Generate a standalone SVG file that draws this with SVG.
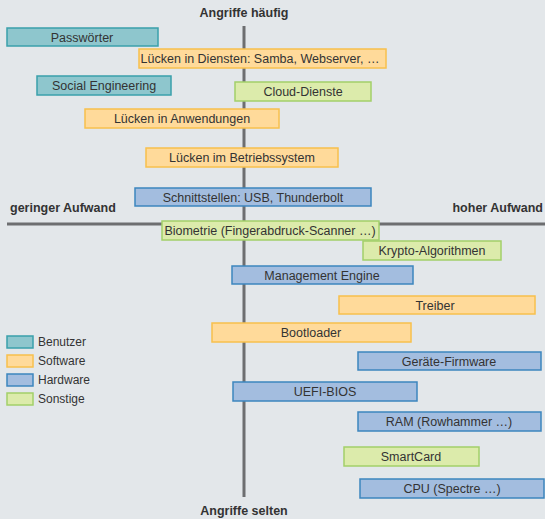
<svg xmlns="http://www.w3.org/2000/svg" width="545" height="519" viewBox="0 0 545 519">
<style>
text{font-family:"Liberation Sans",Arial,sans-serif;fill:#333;}
.t{font-size:12.5px;text-anchor:middle;}
.ax{font-size:12.5px;font-weight:bold;}
.lg{font-size:12px;}
rect{stroke-width:1.5;}
.ben{fill:#8ec6cd;stroke:#3aa0ab;}
.sw{fill:#ffda9a;stroke:#f8c04c;}
.hw{fill:#a3bddf;stroke:#3d86be;}
.so{fill:#dcebab;stroke:#a3d069;}
</style>
<rect x="0" y="0" width="545" height="519" fill="#e3e7ea" stroke="none"/>
<g id="axes">
<line x1="244" y1="26" x2="244" y2="497" stroke="#6d6e70" stroke-width="3"/>
<line x1="7" y1="224" x2="545" y2="224" stroke="#6d6e70" stroke-width="3"/>
<text class="ax" x="244" y="17" text-anchor="middle">Angriffe häufig</text>
<text class="ax" x="244" y="515" text-anchor="middle">Angriffe selten</text>
<text class="ax" x="10" y="212">geringer Aufwand</text>
<text class="ax" x="543" y="212" text-anchor="end">hoher Aufwand</text>
</g>
<g id="n1"><rect class="ben" x="7" y="28" width="151" height="18"/><text class="t" x="82" y="42">Passwörter</text></g>
<g id="n2"><rect class="sw" x="139" y="49" width="247" height="19"/><text class="t" x="260" y="63">Lücken in Diensten: Samba, Webserver, …</text></g>
<g id="n3"><rect class="ben" x="37" y="76" width="134" height="19"/><text class="t" x="104" y="90">Social Engineering</text></g>
<g id="n4"><rect class="so" x="235" y="82" width="136" height="19"/><text class="t" x="303" y="96">Cloud-Dienste</text></g>
<g id="n5"><rect class="sw" x="85" y="109" width="194" height="19"/><text class="t" x="182" y="123">Lücken in Anwendungen</text></g>
<g id="n6"><rect class="sw" x="146" y="148" width="192" height="19"/><text class="t" x="242" y="162">Lücken im Betriebssystem</text></g>
<g id="n7"><rect class="hw" x="135" y="188" width="236" height="18"/><text class="t" x="253" y="202">Schnittstellen: USB, Thunderbolt</text></g>
<g id="n8"><rect class="so" x="162" y="221" width="217" height="19"/><text class="t" x="270" y="235">Biometrie (Fingerabdruck-Scanner …)</text></g>
<g id="n9"><rect class="so" x="363" y="241" width="138" height="19"/><text class="t" x="432" y="255">Krypto-Algorithmen</text></g>
<g id="n10"><rect class="hw" x="232" y="266" width="181" height="18"/><text class="t" x="322" y="280">Management Engine</text></g>
<g id="n11"><rect class="sw" x="339" y="296" width="196" height="18"/><text class="t" x="435" y="310">Treiber</text></g>
<g id="n12"><rect class="sw" x="212" y="323" width="199" height="19"/><text class="t" x="311" y="337">Bootloader</text></g>
<g id="n13"><rect class="hw" x="358" y="352" width="183" height="18"/><text class="t" x="449" y="366">Geräte-Firmware</text></g>
<g id="n14"><rect class="hw" x="233" y="382" width="184" height="19"/><text class="t" x="325" y="396">UEFI-BIOS</text></g>
<g id="n15"><rect class="hw" x="358" y="412" width="183" height="19"/><text class="t" x="449" y="426">RAM (Rowhammer …)</text></g>
<g id="n16"><rect class="so" x="344" y="447" width="135" height="19"/><text class="t" x="411" y="461">SmartCard</text></g>
<g id="n17"><rect class="hw" x="360" y="479" width="184" height="19"/><text class="t" x="452" y="493">CPU (Spectre …)</text></g>
<g id="legend">
<rect class="ben" x="7" y="336" width="26" height="12"/><text class="lg" x="38" y="346">Benutzer</text>
<rect class="sw" x="7" y="355" width="26" height="12"/><text class="lg" x="38" y="365">Software</text>
<rect class="hw" x="7" y="374" width="26" height="12"/><text class="lg" x="38" y="384">Hardware</text>
<rect class="so" x="7" y="393" width="26" height="12"/><text class="lg" x="38" y="403">Sonstige</text>
</g>
</svg>
